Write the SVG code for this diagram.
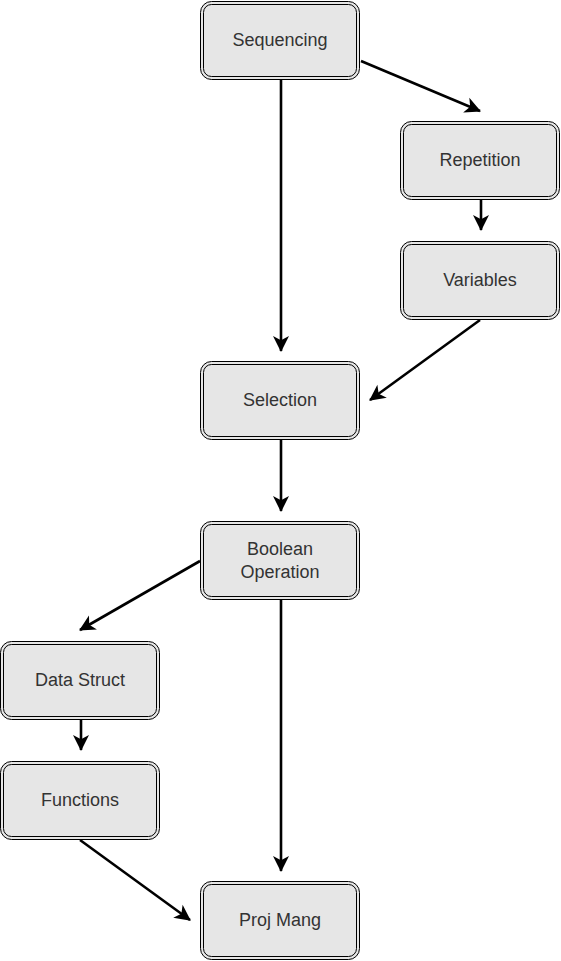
<svg xmlns="http://www.w3.org/2000/svg" width="561" height="961" viewBox="0 0 561 961">
<style>
.o{fill:#e6e6e6;stroke:#000;stroke-width:1}
.i{fill:none;stroke:#000;stroke-width:1}
.t{font-family:"Liberation Sans",Arial,sans-serif;font-size:18px;fill:#333;text-anchor:middle}
.e{fill:none;stroke:#000;stroke-width:2.6;marker-end:url(#a)}
</style>
<defs>
<marker id="a" markerUnits="userSpaceOnUse" markerWidth="16" markerHeight="16" refX="14" refY="7.5" orient="auto" viewBox="0 0 15 15" overflow="visible">
<path d="M0,0 L15,7.5 L0,15 L4,7.5 Z" fill="#000"/>
</marker>
</defs>
<rect width="561" height="961" fill="#fff"/>
<g id="edges">
<path class="e" d="M361,61 L480,111"/>
<path class="e" d="M481,200 L481,230"/>
<path class="e" d="M480,320 L370,400"/>
<path class="e" d="M281,80 L281,351"/>
<path class="e" d="M281,440 L281,511"/>
<path class="e" d="M200,561 L80,630"/>
<path class="e" d="M281,600 L281,871"/>
<path class="e" d="M81,720 L81,750"/>
<path class="e" d="M80,840 L190,920"/>
</g>
<g id="sequencing"><rect class="o" x="200.5" y="1.5" width="159" height="78" rx="11"/><rect class="i" x="203.5" y="4.5" width="153" height="72" rx="8"/><text class="t" x="280" y="46">Sequencing</text></g>
<g id="repetition"><rect class="o" x="400.5" y="121.5" width="159" height="78" rx="11"/><rect class="i" x="403.5" y="124.5" width="153" height="72" rx="8"/><text class="t" x="480" y="166">Repetition</text></g>
<g id="variables"><rect class="o" x="400.5" y="241.5" width="159" height="78" rx="11"/><rect class="i" x="403.5" y="244.5" width="153" height="72" rx="8"/><text class="t" x="480" y="286">Variables</text></g>
<g id="selection"><rect class="o" x="200.5" y="361.5" width="159" height="78" rx="11"/><rect class="i" x="203.5" y="364.5" width="153" height="72" rx="8"/><text class="t" x="280" y="406">Selection</text></g>
<g id="boolean"><rect class="o" x="200.5" y="521.5" width="159" height="78" rx="11"/><rect class="i" x="203.5" y="524.5" width="153" height="72" rx="8"/><text class="t" x="280" y="555">Boolean</text><text class="t" x="280" y="578">Operation</text></g>
<g id="datastruct"><rect class="o" x="0.5" y="641.5" width="159" height="78" rx="11"/><rect class="i" x="3.5" y="644.5" width="153" height="72" rx="8"/><text class="t" x="80" y="686">Data Struct</text></g>
<g id="functions"><rect class="o" x="0.5" y="761.5" width="159" height="78" rx="11"/><rect class="i" x="3.5" y="764.5" width="153" height="72" rx="8"/><text class="t" x="80" y="806">Functions</text></g>
<g id="projmang"><rect class="o" x="200.5" y="881.5" width="159" height="78" rx="11"/><rect class="i" x="203.5" y="884.5" width="153" height="72" rx="8"/><text class="t" x="280" y="926">Proj Mang</text></g>
</svg>
